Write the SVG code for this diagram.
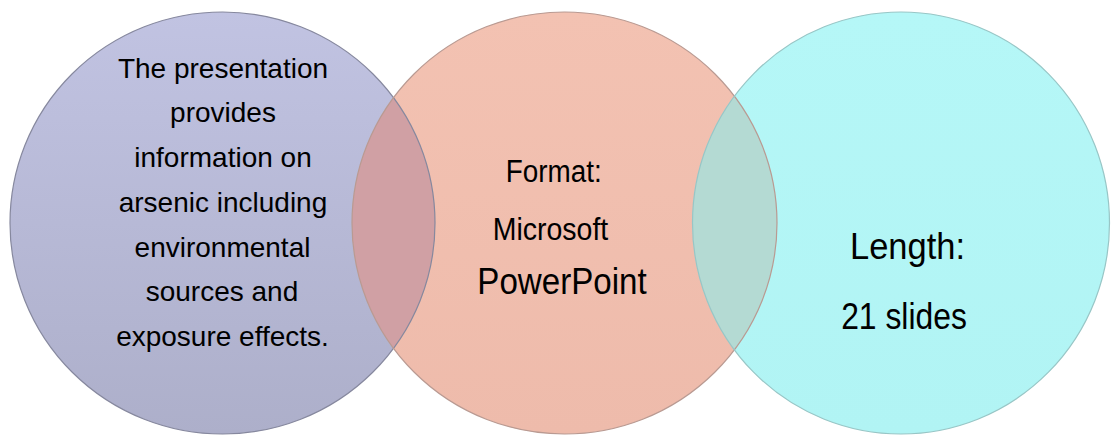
<svg xmlns="http://www.w3.org/2000/svg" width="1111" height="436" viewBox="0 0 1111 436">
  <defs>
    <linearGradient id="gLeft" x1="0" y1="0" x2="0" y2="1">
      <stop offset="0" stop-color="#c1c3e2"/>
      <stop offset="1" stop-color="#adafca"/>
    </linearGradient>
    <linearGradient id="gMid" x1="0" y1="0" x2="0" y2="1">
      <stop offset="0" stop-color="#f3c2b2"/>
      <stop offset="1" stop-color="#eebbab"/>
    </linearGradient>
    <linearGradient id="gRight" x1="0" y1="0" x2="0" y2="1">
      <stop offset="0" stop-color="#b5f7f7"/>
      <stop offset="1" stop-color="#b1f4f4"/>
    </linearGradient>
    <clipPath id="clipLeft">
      <ellipse cx="222.5" cy="223" rx="212.5" ry="211"/>
    </clipPath>
    <clipPath id="clipRight">
      <ellipse cx="901" cy="223" rx="208.5" ry="211"/>
    </clipPath>
    <style>
      .lbl { font-family: "Liberation Sans", Arial, sans-serif; fill: #000; text-anchor: middle; }
      .outline { fill: none; stroke-width: 1.2; }
    </style>
  </defs>

  <rect width="1111" height="436" fill="#ffffff"/>

  <!-- circle fills -->
  <g id="circle-left">
    <ellipse cx="222.5" cy="223" rx="212.5" ry="211" fill="url(#gLeft)"/>
  </g>
  <g id="circle-middle">
    <ellipse cx="564.5" cy="223" rx="212.5" ry="211" fill="url(#gMid)"/>
  </g>
  <g id="circle-right">
    <ellipse cx="901" cy="223" rx="208.5" ry="211" fill="url(#gRight)"/>
  </g>

  <!-- overlaps -->
  <g id="overlap-left-middle">
    <ellipse cx="564.5" cy="223" rx="212.5" ry="211" fill="#d0a0a4" clip-path="url(#clipLeft)"/>
  </g>
  <g id="overlap-middle-right">
    <ellipse cx="564.5" cy="223" rx="212.5" ry="211" fill="#b4dad3" clip-path="url(#clipRight)"/>
  </g>

  <!-- outlines -->
  <g id="outlines">
    <ellipse class="outline" cx="222.5" cy="223" rx="212.5" ry="211" stroke="#86889e"/>
    <ellipse class="outline" cx="564.5" cy="223" rx="212.5" ry="211" stroke="#b99a92"/>
    <ellipse class="outline" cx="901" cy="223" rx="208.5" ry="211" stroke="#98c6c6"/>
  </g>

  <!-- labels -->
  <g id="label-left" font-size="28">
    <text class="lbl" x="223" y="77.5">The presentation</text>
    <text class="lbl" x="223" y="122.3">provides</text>
    <text class="lbl" x="223" y="167">information on</text>
    <text class="lbl" x="223" y="211.8">arsenic including</text>
    <text class="lbl" x="222.5" y="256.5">environmental</text>
    <text class="lbl" x="222" y="301.3">sources and</text>
    <text class="lbl" x="222.5" y="346">exposure effects.</text>
  </g>
  <g id="label-middle">
    <text class="lbl" x="553.7" y="182" font-size="31" textLength="96" lengthAdjust="spacingAndGlyphs">Format:</text>
    <text class="lbl" x="550.5" y="240" font-size="31" textLength="115.6" lengthAdjust="spacingAndGlyphs">Microsoft</text>
    <text class="lbl" x="562" y="294" font-size="36" textLength="169.3" lengthAdjust="spacingAndGlyphs">PowerPoint</text>
  </g>
  <g id="label-right">
    <text class="lbl" x="907.5" y="259" font-size="36" textLength="115" lengthAdjust="spacingAndGlyphs">Length:</text>
    <text class="lbl" x="904" y="329" font-size="36" textLength="125.7" lengthAdjust="spacingAndGlyphs">21 slides</text>
  </g>
</svg>
